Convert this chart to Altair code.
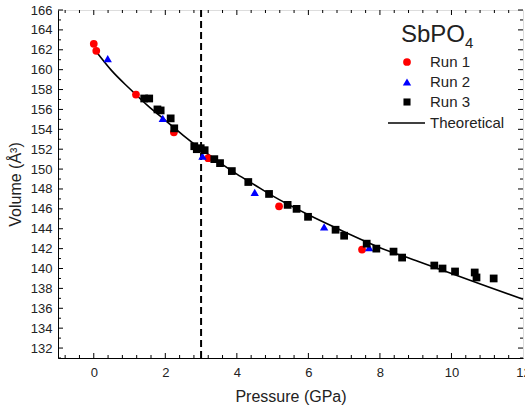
import altair as alt
import pandas as pd

# ---- data ----
run1_p = [0.0, 0.07, 1.18, 2.24, 3.2, 5.18, 7.5]
run1_v = [162.6, 161.9, 157.5, 153.7, 151.1, 146.25, 141.9]

run2_p = [0.39, 1.93, 3.04, 4.5, 6.44, 7.7]
run2_v = [161.1, 155.1, 151.3, 147.65, 144.2, 142.1]

run3_p = [1.41, 1.55, 1.78, 1.87, 2.15, 2.25, 2.81, 2.88, 2.99, 3.1, 3.37, 3.53, 3.86,
          4.32, 4.9, 5.42, 5.67, 5.99, 6.76, 7.0, 7.63, 7.9, 8.38, 8.62, 9.52, 9.75,
          10.1, 10.65, 10.7, 11.18]
run3_v = [157.1, 157.1, 156.0, 155.9, 155.1, 154.1, 152.3, 152.0, 152.1, 151.9, 151.0,
          150.6, 149.8, 148.7, 147.5, 146.4, 146.0, 145.2, 143.9, 143.3, 142.5, 142.0,
          141.7, 141.1, 140.3, 140.0, 139.7, 139.6, 139.1, 139.0]

theo_p = [0.05, 0.5, 1, 1.5, 2, 2.5, 3, 3.5, 4, 4.5, 5, 6, 7, 8, 9, 10, 11, 12]
theo_v = [161.9, 159.9, 158.1, 156.4, 154.9, 153.4, 152.0, 150.7, 149.5, 148.4,
          147.3, 145.4, 143.7, 142.1, 140.8, 139.5, 138.2, 136.9]

transition_p = [3.0]

x_labels = [0, 2, 4, 6, 8, 10, 12]
y_labels = list(range(132, 167, 2))
x_major = [0, 2, 4, 6, 8, 10]
x_minor = [round(-0.8 + 0.4 * i, 1) for i in range(32)]
x_minor = [v for v in x_minor if v not in x_major and v < 12]
y_major = list(range(132, 167, 2))
y_minor = list(range(131, 166, 2))

legend_title_main = "SbPO"
legend_title_sub = "4"
legend_labels = ["Run 1", "Run 2", "Run 3", "Theoretical"]

FONT = "Liberation Sans"
W, H = 465, 348
XD = [-1, 12]
YD = [131, 166]

xs = alt.Scale(domain=XD, nice=False, zero=False)
ys = alt.Scale(domain=YD, nice=False, zero=False)

df1 = pd.DataFrame({"p": run1_p, "v": run1_v})
df2 = pd.DataFrame({"p": run2_p, "v": run2_v})
df3 = pd.DataFrame({"p": run3_p, "v": run3_v})
dft = pd.DataFrame({"p": theo_p, "v": theo_v})

x_axis = alt.Axis(values=x_labels, ticks=False, grid=False, title="Pressure (GPa)",
                  labelFont=FONT, labelFontSize=13, labelColor="#222",
                  labelPadding=8, titleFont=FONT, titleFontSize=16,
                  titleFontWeight="normal", titleColor="#222", titlePadding=9,
                  domainColor="black", labelFlush=False, labelOverlap=False)
y_axis = alt.Axis(values=y_labels, ticks=False, grid=False, title="Volume (\u00c5\u00b3)",
                  labelFont=FONT, labelFontSize=13, labelColor="#222",
                  labelPadding=6, titleFont=FONT, titleFontSize=16,
                  titleFontWeight="normal", titleColor="#222", titlePadding=7,
                  domainColor="black", labelOverlap=False)

X = alt.X("p:Q", scale=xs, axis=x_axis)
Y = alt.Y("v:Q", scale=ys, axis=y_axis)

theory = alt.Chart(dft).mark_line(color="black", strokeWidth=1.6, interpolate="monotone").encode(x=X, y=Y)

dash = alt.Chart(pd.DataFrame({"p": transition_p})).mark_rule(
    color="black", strokeWidth=2, strokeDash=[7, 4]).encode(x=X)

p1 = alt.Chart(df1).mark_point(shape="circle", filled=True, color="#ff0000", size=60, opacity=1).encode(
    x=X, y=Y)
p2 = alt.Chart(df2).mark_point(shape="triangle-up", filled=True, color="#0000ff", size=70, opacity=1).encode(
    x=X, y=Y)
p3 = alt.Chart(df3).mark_point(shape="square", filled=True, color="black", size=60, opacity=1).encode(
    x=X, y=Y)

# inward ticks on all four sides
def xticks(vals, y0, y1):
    return alt.Chart(pd.DataFrame({"p": vals})).mark_rule(color="black", strokeWidth=1).encode(
        x=X, y=alt.value(y0), y2=alt.value(y1))

def yticks(vals, x0, x1):
    return alt.Chart(pd.DataFrame({"v": vals})).mark_rule(color="black", strokeWidth=1).encode(
        y=Y, x=alt.value(x0), x2=alt.value(x1))

ticks = [
    xticks(x_major, H, H - 5), xticks(x_minor, H, H - 3),
    xticks(x_major, 0, 5), xticks(x_minor, 0, 3),
    yticks(y_major, 0, 5), yticks(y_minor, 0, 3),
    yticks(y_major, W, W - 5), yticks(y_minor, W, W - 3),
]

# legend
lx_sym = 349
lx_txt = 372
row_y = [52, 72, 92, 113]
leg = []
leg.append(alt.Chart(pd.DataFrame({"t": [legend_title_main]})).mark_text(
    align="left", baseline="alphabetic", font=FONT, fontSize=24, color="#222").encode(
    text="t:N", x=alt.value(343), y=alt.value(32)))
leg.append(alt.Chart(pd.DataFrame({"t": [legend_title_sub]})).mark_text(
    align="left", baseline="alphabetic", font=FONT, fontSize=15, color="#222").encode(
    text="t:N", x=alt.value(407), y=alt.value(38)))
shapes = [("circle", "#ff0000", 60), ("triangle-up", "#0000ff", 70), ("square", "black", 50)]
for i, (shp, col, sz) in enumerate(shapes):
    leg.append(alt.Chart(pd.DataFrame({"t": [legend_labels[i]]})).mark_point(
        shape=shp, filled=True, color=col, size=sz, opacity=1).encode(
        x=alt.value(lx_sym), y=alt.value(row_y[i])))
leg.append(alt.Chart(pd.DataFrame({"t": [legend_labels[3]]})).mark_rule(
    color="black", strokeWidth=1.6).encode(
    x=alt.value(330), x2=alt.value(367), y=alt.value(row_y[3])))
for i, lab in enumerate(legend_labels):
    leg.append(alt.Chart(pd.DataFrame({"t": [lab]})).mark_text(
        align="left", baseline="middle", font=FONT, fontSize=15, color="#222").encode(
        text="t:N", x=alt.value(lx_txt), y=alt.value(row_y[i])))

chart = alt.layer(theory, dash, p1, p2, p3, *ticks, *leg).properties(
    width=W, height=H,
    autosize=alt.AutoSizeParams(type="none"),
    padding={"left": 58, "top": 10, "right": 2, "bottom": 57},
).configure_view(stroke="black", strokeWidth=1).configure_axis(
    labelOverlap=False).configure(background="white")

chart.save("out.html", embed_options={"renderer": "svg", "actions": False})
